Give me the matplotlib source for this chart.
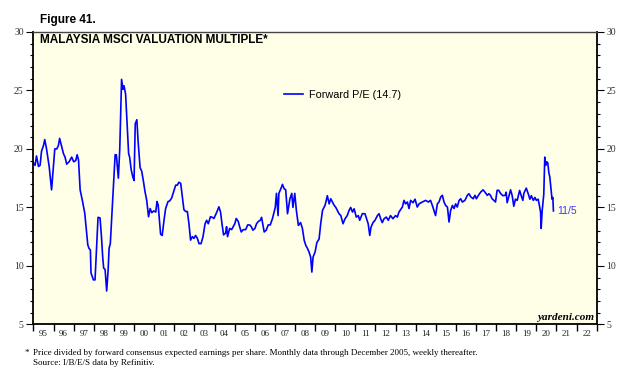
import matplotlib
matplotlib.use("Agg")
import matplotlib.pyplot as plt
from matplotlib.ticker import MultipleLocator, FixedLocator, NullFormatter

years = [
    1995.0, 1995.08, 1995.15, 1995.25, 1995.33, 1995.4, 1995.5, 1995.56, 1995.64, 1995.78,
    1995.9, 1995.99, 1996.06, 1996.16, 1996.24, 1996.3, 1996.4, 1996.49, 1996.57, 1996.65,
    1996.77, 1996.9, 1997.0, 1997.1, 1997.17, 1997.24, 1997.32, 1997.43, 1997.55, 1997.63,
    1997.7, 1997.76, 1997.83, 1997.86, 1997.98, 1998.06, 1998.13, 1998.21, 1998.31, 1998.38,
    1998.44, 1998.49, 1998.56, 1998.64, 1998.71, 1998.76, 1998.82, 1998.92, 1999.06, 1999.12,
    1999.22, 1999.29, 1999.38, 1999.45, 1999.5, 1999.58, 1999.66, 1999.73, 1999.78, 1999.86,
    1999.94, 2000.0, 2000.06, 2000.14, 2000.2, 2000.3, 2000.38, 2000.46, 2000.55, 2000.63,
    2000.72, 2000.8, 2000.88, 2000.98, 2001.08, 2001.14, 2001.2, 2001.26, 2001.32, 2001.4,
    2001.49, 2001.57, 2001.69, 2001.77, 2001.87, 2001.97, 2002.07, 2002.15, 2002.23, 2002.32,
    2002.4, 2002.48, 2002.57, 2002.65, 2002.73, 2002.81, 2002.9, 2002.98, 2003.06, 2003.15,
    2003.23, 2003.33, 2003.43, 2003.53, 2003.61, 2003.69, 2003.8, 2003.89, 2003.97, 2004.09,
    2004.22, 2004.3, 2004.38, 2004.45, 2004.55, 2004.6, 2004.65, 2004.75, 2004.85, 2004.93,
    2005.01, 2005.08, 2005.18, 2005.25, 2005.33, 2005.43, 2005.55, 2005.65, 2005.75, 2005.83,
    2005.91,
    2006.01, 2006.09, 2006.18, 2006.28, 2006.34, 2006.41, 2006.47, 2006.57, 2006.67, 2006.77,
    2006.88, 2006.95, 2007.02, 2007.08, 2007.16, 2007.2, 2007.3, 2007.38, 2007.46, 2007.54,
    2007.63, 2007.75, 2007.84, 2007.9, 2007.99, 2008.07, 2008.17, 2008.28, 2008.37, 2008.46,
    2008.54, 2008.62, 2008.7, 2008.78, 2008.84, 2008.9, 2009.0, 2009.09, 2009.2, 2009.28,
    2009.37, 2009.5, 2009.61, 2009.7, 2009.78, 2009.86, 2009.94, 2010.03, 2010.11, 2010.19,
    2010.28, 2010.39, 2010.49, 2010.6, 2010.69, 2010.77, 2010.86, 2010.94, 2011.05, 2011.15,
    2011.22, 2011.35, 2011.48, 2011.56, 2011.64, 2011.72, 2011.78, 2011.88, 2011.98, 2012.1,
    2012.18, 2012.26, 2012.34, 2012.43, 2012.54, 2012.64, 2012.75, 2012.87, 2013.0, 2013.09,
    2013.17, 2013.34, 2013.42, 2013.5, 2013.59, 2013.67, 2013.75, 2013.87, 2013.97, 2014.08,
    2014.17, 2014.33, 2014.5, 2014.63, 2014.74, 2014.83, 2014.91, 2014.99, 2015.08, 2015.16,
    2015.25, 2015.33, 2015.41, 2015.49, 2015.58, 2015.66, 2015.74, 2015.83, 2015.91, 2015.99,
    2016.07, 2016.16, 2016.24, 2016.32, 2016.45, 2016.57, 2016.65, 2016.74, 2016.86, 2016.95,
    2017.02, 2017.12, 2017.23, 2017.35, 2017.45, 2017.56, 2017.64, 2017.72, 2017.8, 2017.89,
    2017.97, 2018.05, 2018.13, 2018.22, 2018.33, 2018.45, 2018.5, 2018.55, 2018.64, 2018.72,
    2018.8, 2018.88, 2018.96, 2019.05, 2019.17, 2019.25, 2019.33, 2019.38, 2019.5, 2019.6,
    2019.68, 2019.75, 2019.85, 2019.93, 2020.0, 2020.09, 2020.16, 2020.21, 2020.24, 2020.29,
    2020.34, 2020.37, 2020.42, 2020.47, 2020.52, 2020.57, 2020.62, 2020.67, 2020.72, 2020.78,
    2020.82, 2020.85,
]
pe = [
    18.8, 18.6, 19.4, 18.5, 18.6, 19.8, 20.3, 20.8, 20.1, 18.5,
    16.5, 18.5, 20.0, 20.0, 20.3, 20.9, 20.2, 19.6, 19.3, 18.7,
    18.9, 19.3, 18.9, 19.0, 19.5, 19.05, 16.5, 15.6, 14.5, 13.1,
    11.8, 11.5, 11.35, 9.4, 8.8, 8.8, 11.35, 14.15, 14.1, 12.5,
    10.8, 9.8, 9.7, 7.85, 9.6, 11.5, 11.9, 15.1, 19.5, 19.5,
    17.5, 20.0, 25.95, 25.1, 25.4, 24.7, 21.9, 19.6, 19.3, 18.2,
    17.6, 17.3, 22.15, 22.5, 20.7, 18.4, 18.1, 17.3, 16.3, 15.6,
    14.2, 14.9, 14.55, 14.7, 14.6, 15.5, 15.2, 13.9, 12.7, 12.6,
    13.9, 14.9, 15.5, 15.55, 15.8, 16.35, 16.9, 16.9, 17.15, 17.05,
    15.9, 14.8, 14.65, 14.65, 13.6, 12.2, 12.5, 12.35, 12.6, 12.35,
    11.9, 11.9, 12.5, 13.6, 13.9, 13.6, 14.2, 14.15, 14.05, 14.5,
    15.05, 14.6, 13.5, 12.65, 12.8, 13.35, 12.5, 13.2, 13.1, 13.35,
    13.6, 14.05, 13.8, 13.35, 12.9, 13.1, 13.1, 13.5, 13.5, 13.35,
    13.05,
    13.2, 13.6, 13.8, 13.9, 14.15, 13.5, 12.9, 13.05, 13.5, 13.5,
    14.03, 14.5, 15.0, 16.2, 14.3, 16.2, 16.6, 16.97, 16.6, 16.5,
    14.46, 15.74, 16.2, 15.0, 16.2, 14.74, 13.46, 13.7, 13.2, 12.18,
    11.75, 11.5, 11.18, 10.75, 9.47, 10.75, 11.18, 12.0, 12.3, 13.6,
    14.74, 15.2, 16.0, 15.3, 15.74, 15.46, 15.2, 15.0, 14.74, 14.46,
    14.3, 13.6, 14.03, 14.3, 14.74, 15.0, 14.6, 14.88, 14.17, 14.3,
    13.9, 14.46, 14.46, 14.03, 13.6, 12.6, 13.3, 13.7, 13.9, 14.3,
    14.46, 14.03, 13.7, 14.03, 14.17, 13.9, 14.3, 14.03, 14.3, 14.17,
    14.6, 15.03, 15.6, 15.3, 15.46, 14.9, 15.6, 15.4, 15.7, 15.03,
    15.3, 15.46, 15.6, 15.46, 15.6, 15.17, 14.74, 14.3, 15.3, 15.46,
    15.9, 16.03, 15.46, 15.17, 15.03, 13.75, 14.74, 15.17, 14.9, 15.3,
    15.03, 15.6, 15.74, 15.46, 15.6, 16.03, 16.17, 15.9, 15.74, 16.03,
    15.74, 16.03, 16.3, 16.5, 16.3, 16.03, 16.17, 16.03, 15.74, 15.6,
    15.46, 16.46, 16.46, 16.2, 16.0, 16.03, 16.3, 15.4, 16.0, 16.5,
    16.0, 15.1, 15.7, 15.6, 16.45, 16.0, 15.6, 16.2, 16.65, 16.15,
    15.7, 16.0, 15.6, 15.85, 15.6, 15.7, 15.1, 14.6, 13.2, 14.7,
    15.6, 16.1, 19.3, 18.6, 18.9, 18.8, 18.0, 17.6, 16.7, 15.7,
    15.85, 14.7,
]
latest = 14.7
year_labels = [f"{y % 100:02d}" for y in range(1995, 2023)]

fig = plt.figure(figsize=(6.4, 3.86), dpi=100)
ax = fig.add_axes([0.0523, 0.1598, 0.880, 0.7573])
ax.set_facecolor("#fffee6")

ax.plot(years, pe, color="#0000ff", lw=1.2, label=f"Forward P/E ({latest})")

ax.set_xlim(1995, 2023)
ax.set_ylim(5, 30)

# year boundaries get the ticks, labels sit mid-year
ax.xaxis.set_major_locator(FixedLocator(range(1995, 2024)))
ax.xaxis.set_major_formatter(NullFormatter())
ax.xaxis.set_minor_locator(FixedLocator([y + 0.5 for y in range(1995, 2023)]))
ax.set_xticklabels(year_labels, minor=True)
ax.tick_params(axis="x", which="major", direction="out", length=5, width=1, color="black")
ax.tick_params(axis="x", which="minor", length=0, pad=4, labelsize=6.5,
               labelcolor="#222222", labelfontfamily="Liberation Serif")

ax.yaxis.set_major_locator(MultipleLocator(5))
ax.yaxis.set_minor_locator(MultipleLocator(1))
ax.tick_params(axis="y", which="both", left=True, right=True, labelleft=True,
               labelright=True, direction="out")
ax.tick_params(axis="y", which="major", length=5, width=0.8, labelsize=7,
               labelcolor="#333333", labelfontfamily="Liberation Serif", pad=2)
ax.tick_params(axis="y", which="minor", length=2.5, width=0.8)

for side in ["left", "right", "bottom"]:
    ax.spines[side].set_linewidth(1.3)
    ax.spines[side].set_color("black")
ax.spines["top"].set_linewidth(1.0)
ax.spines["top"].set_color("#444444")

ax.legend(loc="center left", bbox_to_anchor=(0.4448, 0.7845), frameon=False,
          borderpad=0, borderaxespad=0, handlelength=1.8, handletextpad=0.5,
          prop={"family": "Liberation Sans", "size": 7.8})

ax.text(years[-1] + 0.2, pe[-1], "11/5", color="#3a3aff", fontsize=7.5,
        family="Liberation Sans", va="center", ha="left")

ax.text(0.0115, 0.9726, "MALAYSIA MSCI VALUATION MULTIPLE*", transform=ax.transAxes,
        fontsize=8.5, fontweight="bold", family="Liberation Sans", va="center", ha="left")
ax.text(0.995, 0.025, "yardeni.com", transform=ax.transAxes, fontsize=8,
        fontweight="bold", fontstyle="italic", family="Liberation Serif",
        va="center", ha="right")

fig.text(0.0625, 0.948, "Figure 41.", fontsize=8.5, fontweight="bold",
         family="Liberation Sans", va="center", ha="left")
fig.text(25 / 640, 1 - 353 / 386, "*", fontsize=6.5, family="Liberation Serif",
         va="center", ha="left")
fig.text(0.052, 1 - 353 / 386,
         "Price divided by forward consensus expected earnings per share. "
         "Monthly data through December 2005, weekly thereafter.",
         fontsize=6.5, family="Liberation Serif", va="center", ha="left")
fig.text(0.052, 1 - 363 / 386, "Source: I/B/E/S data by Refinitiv.",
         fontsize=6.5, family="Liberation Serif", va="center", ha="left")

fig.savefig("out.png", dpi=100)
